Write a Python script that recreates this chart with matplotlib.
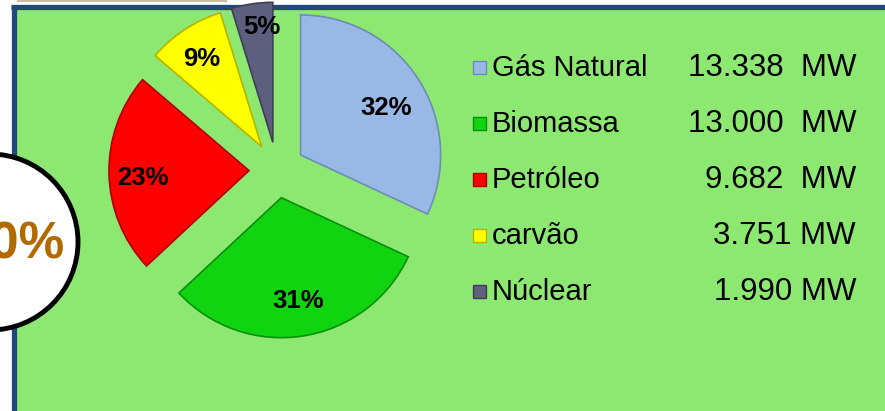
import matplotlib
matplotlib.use("Agg")
import matplotlib.pyplot as plt
from matplotlib.patches import Rectangle, Circle

plt.rcParams['font.family'] = ['Liberation Sans', 'DejaVu Sans']

# data
fontes = ["Gás Natural", "Biomassa", "Petróleo", "carvão", "Núclear"]
potencia = [13338, 13000, 9682, 3751, 1990]
valores_txt = ["13.338  MW", "13.000  MW", "9.682  MW", "3.751 MW", "1.990 MW"]
cores = ["#98B9E6", "#0FD40F", "#FF0000", "#FFFF00", "#5E5E7E"]
bordas = ["#6F8CB5", "#0A8F0A", "#B00000", "#B5B500", "#3E3E55"]
# small nudges of the percentage labels (pixels)
ajuste = [(-3, -9), (0, 0), (-1, -5), (-2, 0), (5, 11)]

W, H = 885, 411
fig = plt.figure(figsize=(W / 100, H / 100), dpi=100)
ax = fig.add_axes([0, 0, 1, 1])

# background panel (pixel coords, y up)
ax.add_patch(Rectangle((16, 0), W - 16, H - 10, facecolor="#8DE871", edgecolor="none", zorder=0))
ax.plot([13.5, 13.5], [0, H - 5], color="#1F497D", lw=3.8, solid_capstyle="butt", zorder=1)
ax.plot([11, W], [H - 7.5, H - 7.5], color="#1F497D", lw=3.8, solid_capstyle="butt", zorder=1)
ax.plot([18, 226], [H - 1, H - 1], color="#C8BE9C", lw=1.5, zorder=1)

# exploded pie
wedges, texts, autotexts = ax.pie(
    potencia, colors=cores, startangle=90, counterclock=False,
    radius=140, center=(277, H - 170), explode=[28] * len(potencia),
    autopct="%.0f%%", pctdistance=0.75, frame=True,
    wedgeprops=dict(linewidth=1.2),
    textprops=dict(fontsize=18.5, fontweight="bold", color="black"))
for w, b in zip(wedges, bordas):
    w.set_edgecolor(b)
    w.set_zorder(3)
for t, (dx, dy) in zip(autotexts, ajuste):
    x, y = t.get_position()
    t.set_position((x + dx, y + dy))
    t.set_zorder(4)

# legend rows
for i, (nome, val, c, b) in enumerate(zip(fontes, valores_txt, cores, bordas)):
    y = H - (68 + 56 * i)
    ax.add_patch(Rectangle((473, y - 6.5), 13, 13, facecolor=c, edgecolor=b, lw=1, zorder=3))
    ax.text(492, y, nome, fontsize=21, va="center", ha="left", zorder=4)
    ax.text(856, y, val, fontsize=22.5, va="center", ha="right", zorder=4)

# partially visible circle on the left
ax.add_patch(Circle((-10, H - 242), 88, facecolor="white", edgecolor="black", lw=3.5, zorder=5))
ax.text(64, H - 245, "0%", fontsize=37, fontweight="bold", color="#B06A00",
        ha="right", va="center", zorder=6)

ax.set_xlim(0, W)
ax.set_ylim(0, H)
ax.set_aspect("equal", adjustable="box")
ax.axis("off")

fig.savefig("out.png", dpi=100, facecolor="white")
